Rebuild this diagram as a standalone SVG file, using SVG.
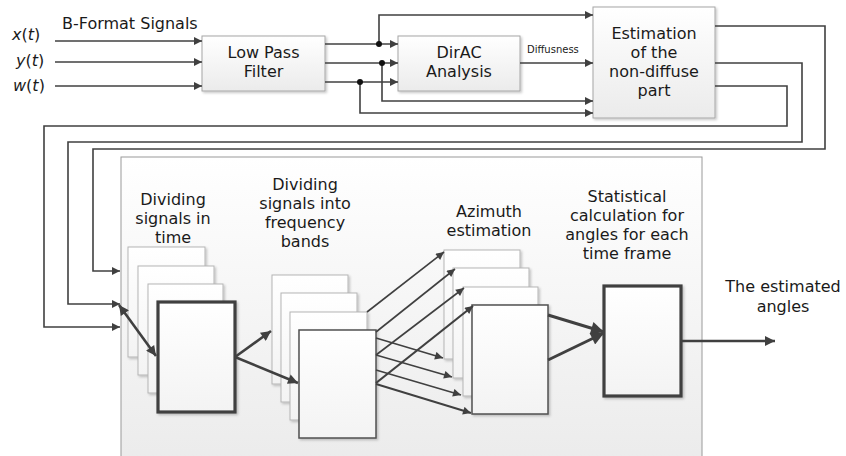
<svg xmlns="http://www.w3.org/2000/svg" width="846" height="456" viewBox="0 0 846 456">
<style>
text{font-family:"DejaVu Sans","Open Sans",sans-serif;font-size:16px;fill:#1a1a1a;text-anchor:middle}
.l{text-anchor:start}
.ln{fill:none;stroke:#404040;stroke-width:1.6}
.a{marker-end:url(#ah)}
.tk{fill:none;stroke:#404040;stroke-width:2.6;marker-end:url(#ahb)}
.box{fill:url(#gb);stroke:#a6a6a6;stroke-width:1;filter:url(#sh)}
.st{fill:url(#gs);stroke:#b5b5b5;stroke-width:1;filter:url(#sh)}
.sd{fill:url(#gs);stroke:#505050;stroke-width:1.5;filter:url(#sh)}
.bold{fill:url(#gs);stroke:#404040;stroke-width:3.2;filter:url(#sh)}
</style>
<defs>
<linearGradient id="gb" x1="0" y1="0" x2="0" y2="1"><stop offset="0" stop-color="#ffffff"/><stop offset="1" stop-color="#ebebeb"/></linearGradient>
<linearGradient id="gs" x1="0" y1="0" x2="0" y2="1"><stop offset="0" stop-color="#ffffff"/><stop offset="1" stop-color="#f3f3f3"/></linearGradient>
<linearGradient id="gp" x1="0" y1="0" x2="0" y2="1"><stop offset="0" stop-color="#ffffff"/><stop offset="1" stop-color="#ebebeb"/></linearGradient>
<filter id="sh" x="-10%" y="-10%" width="130%" height="130%"><feDropShadow dx="1.5" dy="1.5" stdDeviation="1" flood-color="#000" flood-opacity="0.22"/></filter>
<marker id="ah" viewBox="0 0 10 10" refX="10" refY="5" markerWidth="11" markerHeight="8" markerUnits="userSpaceOnUse" orient="auto"><path d="M0,0 L10,5 L0,10 z" fill="#404040"/></marker>
<marker id="ahb" viewBox="0 0 10 10" refX="10" refY="5" markerWidth="13" markerHeight="10" markerUnits="userSpaceOnUse" orient="auto-start-reverse"><path d="M0,0 L10,5 L0,10 z" fill="#404040"/></marker>
<marker id="ahL" viewBox="0 0 10 10" refX="10" refY="5" markerWidth="15" markerHeight="13" markerUnits="userSpaceOnUse" orient="auto"><path d="M0,0 L10,5 L0,10 z" fill="#404040"/></marker>
</defs>

<rect id="panel" x="121" y="157" width="581" height="310" fill="url(#gp)" stroke="#9a9a9a" stroke-width="1"/>

<g id="inputs">
<text class="l" x="62" y="29">B-Format Signals</text>
<text class="l" x="12" y="40" font-style="italic">x<tspan font-style="normal">(</tspan>t<tspan font-style="normal">)</tspan></text>
<text class="l" x="16" y="66" font-style="italic">y<tspan font-style="normal">(</tspan>t<tspan font-style="normal">)</tspan></text>
<text class="l" x="13" y="91" font-style="italic">w<tspan font-style="normal">(</tspan>t<tspan font-style="normal">)</tspan></text>
</g>

<g id="lpf"><rect class="box" x="202" y="36" width="123" height="55"/><text x="263.5" y="58">Low Pass</text><text x="263.5" y="77">Filter</text></g>
<g id="dirac"><rect class="box" x="398" y="36" width="122" height="55"/><text x="459" y="58">DirAC</text><text x="459" y="77">Analysis</text></g>
<g id="est"><rect class="box" x="593" y="7" width="122" height="111"/><text x="654" y="39">Estimation</text><text x="654" y="58">of the</text><text x="654" y="77">non-diffuse</text><text x="654" y="96">part</text></g>

<g id="time">
<text x="173" y="205">Dividing</text><text x="173" y="224">signals in</text><text x="173" y="243">time</text>
<rect class="st" x="128" y="247" width="77" height="110"/>
<rect class="st" x="138" y="266" width="76" height="109"/>
<rect class="st" x="148" y="284" width="75" height="109"/>
<rect class="bold" x="158" y="302" width="77" height="110"/>
</g>
<g id="freq">
<text x="305" y="190">Dividing</text><text x="305" y="209">signals into</text><text x="305" y="228">frequency</text><text x="305" y="247">bands</text>
<rect class="st" x="272" y="275" width="76" height="109"/>
<rect class="st" x="281" y="293" width="76" height="109"/>
<rect class="st" x="290" y="312" width="77" height="108"/>
<rect class="sd" x="299" y="330" width="77" height="108"/>
</g>
<g id="azimuth">
<text x="489" y="217">Azimuth</text><text x="489" y="236">estimation</text>
<rect class="st" x="444" y="250" width="76" height="109"/>
<rect class="st" x="453" y="268" width="76" height="110"/>
<rect class="st" x="463" y="287" width="75" height="109"/>
<rect class="sd" x="472" y="305" width="76" height="109"/>
</g>
<g id="stat">
<text x="627" y="202">Statistical</text><text x="627" y="221">calculation for</text><text x="627" y="240">angles for each</text><text x="627" y="259">time frame</text>
<rect class="bold" x="604" y="286" width="77" height="110"/>
</g>
<g id="output"><text x="783" y="292">The estimated</text><text x="783" y="312">angles</text></g>

<g id="connectors">
<path class="ln a" d="M55,41 H202"/>
<path class="ln a" d="M55,62 H202"/>
<path class="ln a" d="M55,86 H202"/>
<path class="ln a" d="M325,44 H398"/>
<path class="ln a" d="M325,63 H398"/>
<path class="ln a" d="M325,82 H398"/>
<path class="ln a" d="M379,44 V15 H593"/>
<path class="ln a" d="M382,63 V101 H593"/>
<path class="ln a" d="M360,82 V113 H593"/>
<path class="ln a" d="M520,63 H593"/>
<text class="l" x="527" y="53" style="font-size:10px">Diffusness</text>
<circle cx="379" cy="44" r="3" fill="#111"/>
<circle cx="382" cy="63" r="3" fill="#111"/>
<circle cx="360" cy="82" r="3" fill="#111"/>
<path class="ln a" d="M715,26 H825 V149 H93 V271 H120"/>
<path class="ln a" d="M715,63 H802 V142 H68 V304 H120"/>
<path class="ln a" d="M715,86 H787 V126 H44 V327 H120"/>
<path class="tk" style="marker-start:url(#ahb)" d="M119,305 L156,356"/>
<path class="tk" d="M235,357 L271,331"/>
<path class="tk" d="M235,357 L298,383"/>
<path class="ln a" d="M367,312 L444,252"/>
<path class="ln a" d="M376,332 L455,269"/>
<path class="ln a" d="M376,355 L464,288"/>
<path class="ln a" style="stroke-width:2.2" d="M376,383 L473,306"/>
<path class="ln a" d="M376,338 L443,358"/>
<path class="ln a" d="M376,355 L452,377"/>
<path class="ln a" d="M376,370 L461,395"/>
<path class="ln a" style="stroke-width:2" d="M376,384 L471,413"/>
<path class="tk" style="stroke-width:3;marker-end:url(#ahL)" d="M548,315 L604,332"/>
<path class="tk" style="stroke-width:3;marker-end:url(#ahL)" d="M548,360 L604,333"/>
<path class="tk" d="M681,341 H775"/>
</g>
</svg>
